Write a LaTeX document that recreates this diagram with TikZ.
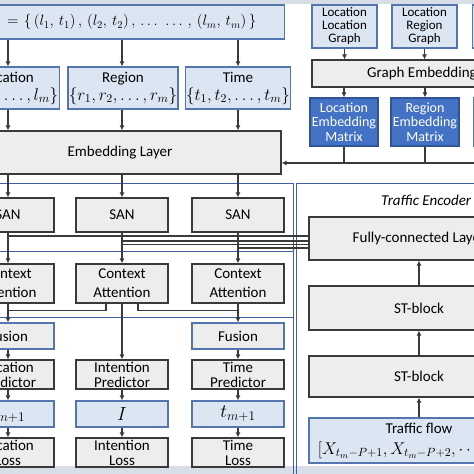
\documentclass[tikz,border=0pt]{standalone}
\usepackage{fix-cm}
\usepackage{fontspec}
\setmainfont{Carlito}
\usetikzlibrary{arrows.meta}
\definecolor{lbfill}{HTML}{DCE6F2}
\definecolor{lbdraw}{HTML}{5575AE}
\definecolor{gfill}{HTML}{EDEDED}
\definecolor{gdraw}{HTML}{3A3A3A}
\definecolor{dbfill}{HTML}{4472C4}
\definecolor{dbdraw}{HTML}{2F5597}
\definecolor{frameblue}{HTML}{4060A6}
\definecolor{bandgray}{HTML}{D8DEE8}
\newcommand{\setmath}[1]{{\fontsize{17}{18}\selectfont$#1$}}
\tikzset{
  lbox/.style={draw=lbdraw, fill=lbfill, line width=1.1pt},
  gbox/.style={draw=gdraw, fill=gfill, line width=1.1pt},
  dbox/.style={draw=dbdraw, fill=dbfill, line width=1.1pt, text=white},
  arr/.style={-{Latex[length=5pt,width=5pt]}, line width=1.1pt, draw=gdraw},
  ln/.style={line width=1.1pt, draw=gdraw},
  frame/.style={draw=frameblue, line width=0.9pt}
}
\begin{document}
\begin{tikzpicture}[x=1pt, y=-1pt,
    every node/.style={font=\fontsize{15}{17}\selectfont, align=center, inner sep=1pt}]
  \useasboundingbox (0,0) rectangle (474,474);
  \fill[bandgray] (0,0) rectangle (474,3.5);
  \fill[bandgray] (0,466) rectangle (474,474);

  % Frames
  \draw[frame] (-5,183) rectangle (293,251);
  \draw[frame] (-5,251) rectangle (293,317);
  \draw[frame] (-5,317) rectangle (293,480);
  \draw[frame] (296,183) rectangle (490,480);

  % Trajectory and input sets
  \node[lbox, anchor=east, text width=258pt, align=right, inner xsep=28pt, minimum height=34pt] (seq) at (285,22)
    {$=\{\,(l_1,\,t_1)\,,\,(l_2,\,t_2)\,,\,\ldots\;\ldots\,,\,(l_m,\,t_m)\,\}$};
  \node[lbox, minimum width=96pt, minimum height=42pt, font=\fontsize{15}{18}\selectfont] (loc) at (8,88) {Location\\\setmath{\{l_1, l_2, \ldots, l_m\}}};
  \node[lbox, minimum width=96pt, minimum height=42pt, font=\fontsize{15}{18}\selectfont] (reg) at (123,88) {Region\\\setmath{\{r_1, r_2, \ldots, r_m\}}};
  \node[lbox, minimum width=96pt, minimum height=42pt, font=\fontsize{15}{18}\selectfont] (tim) at (238,88) {Time\\\setmath{\{t_1, t_2, \ldots, t_m\}}};
  \node[gbox, minimum width=322pt, minimum height=43pt] (emb) at (120,152.5) {Embedding Layer};

  % Graph side
  \node[lbox, minimum width=65pt, minimum height=43pt, font=\fontsize{13}{13}\selectfont] (lgr) at (344.5,26.5) {Location\\Location\\Graph};
  \node[lbox, minimum width=65pt, minimum height=43pt, font=\fontsize{13}{13}\selectfont] (rgr) at (424.5,26.5) {Location\\Region\\Graph};
  \node[lbox, minimum width=65pt, minimum height=43pt] (xgr) at (505,26.5) {};
  \node[gbox, minimum width=220pt, minimum height=27pt] (gemb) at (422,73.5) {Graph Embedding};
  \node[dbox, minimum width=68pt, minimum height=48pt, font=\fontsize{14}{14.5}\selectfont] (lmat) at (344,122) {Location\\Embedding\\Matrix};
  \node[dbox, minimum width=68pt, minimum height=48pt, font=\fontsize{14}{14.5}\selectfont] (rmat) at (425,122) {Region\\Embedding\\Matrix};
  \node[lbox, minimum width=68pt, minimum height=48pt] (xmat) at (508,122) {};
  \coordinate (bus) at (480,163);

  % Branches
  \node[gbox, minimum width=92pt, minimum height=34pt] (san1) at (8,215) {SAN};
  \node[gbox, minimum width=92pt, minimum height=34pt] (san2) at (122,215) {SAN};
  \node[gbox, minimum width=92pt, minimum height=34pt] (san3) at (238,215) {SAN};
  \node[gbox, minimum width=92pt, minimum height=39pt, font=\fontsize{15}{19}\selectfont] (ca1) at (8,283.5) {Context\\Attention};
  \node[gbox, minimum width=92pt, minimum height=39pt, font=\fontsize{15}{19}\selectfont] (ca2) at (122,283.5) {Context\\Attention};
  \node[gbox, minimum width=92pt, minimum height=39pt, font=\fontsize{15}{19}\selectfont] (ca3) at (238,283.5) {Context\\Attention};
  \node[gbox, draw=lbdraw, minimum width=92pt, minimum height=26pt] (fus1) at (8,336) {Fusion};
  \node[gbox, draw=lbdraw, minimum width=92pt, minimum height=26pt] (fus3) at (238,336) {Fusion};
  \node[gbox, minimum width=92pt, minimum height=29pt, inner ysep=0pt, font=\fontsize{15}{15}\selectfont] (pre1) at (8,374.5) {Location\\Predictor};
  \node[gbox, minimum width=92pt, minimum height=29pt, inner ysep=0pt, font=\fontsize{15}{15}\selectfont] (pre2) at (122,374.5) {Intention\\Predictor};
  \node[gbox, minimum width=92pt, minimum height=29pt, inner ysep=0pt, font=\fontsize{15}{15}\selectfont] (pre3) at (238,374.5) {Time\\Predictor};
  \node[lbox, minimum width=92pt, minimum height=26pt, inner ysep=0pt, font=\fontsize{19}{20}\selectfont] (out1) at (8,414) {$l_{m+1}$};
  \node[lbox, minimum width=92pt, minimum height=26pt, inner ysep=0pt, font=\fontsize{19}{20}\selectfont] (out2) at (122,414) {$I$};
  \node[lbox, minimum width=92pt, minimum height=26pt, inner ysep=0pt, font=\fontsize{19}{20}\selectfont] (out3) at (238,414) {$t_{m+1}$};
  \node[gbox, minimum width=92pt, minimum height=29pt, inner ysep=0pt, font=\fontsize{15}{15}\selectfont] (los1) at (8,452.5) {Location\\Loss};
  \node[gbox, minimum width=92pt, minimum height=29pt, inner ysep=0pt, font=\fontsize{15}{15}\selectfont] (los2) at (122,452.5) {Intention\\Loss};
  \node[gbox, minimum width=92pt, minimum height=29pt, inner ysep=0pt, font=\fontsize{15}{15}\selectfont] (los3) at (238,452.5) {Time\\Loss};

  % Traffic encoder
  \node[anchor=west, font=\fontsize{15}{17}\selectfont\itshape] (tenc) at (380,200) {Traffic Encoder};
  \node[gbox, minimum width=220pt, minimum height=43pt] (fc) at (419,238.5) {Fully-connected Layer};
  \node[gbox, minimum width=220pt, minimum height=44pt] (st1) at (419,308) {ST-block};
  \node[gbox, minimum width=220pt, minimum height=41pt] (st2) at (419,376.5) {ST-block};
  \node[lbox, minimum width=220pt, minimum height=45pt, inner ysep=0pt, font=\fontsize{15}{21}\selectfont] (flow) at (419,440.5)
    {Traffic flow\\\setmath{[X_{t_m-P+1}, X_{t_m-P+2}, \cdots, X_{t_m}]}};

  % Connectors
  \draw[arr] (seq.south -| loc) -- (loc.north);
  \draw[arr] (seq.south -| san2) -- (reg.north -| san2);
  \draw[arr] (seq.south -| tim) -- (tim.north);
  \draw[arr] (loc.south) -- (loc.south |- emb.north);
  \draw[arr] (reg.south -| san2) -- (emb.north -| san2);
  \draw[arr] (tim.south) -- (tim.south |- emb.north);
  \draw[arr] (emb.south -| san1) -- (san1.north);
  \draw[arr] (emb.south -| san2) -- (san2.north);
  \draw[arr] (emb.south -| san3) -- (san3.north);
  \draw[arr] (lgr.south) -- (lgr.south |- gemb.north);
  \draw[arr] (rgr.south) -- (rgr.south |- gemb.north);
  \draw[arr] (gemb.south -| lmat) -- (lmat.north);
  \draw[arr] (gemb.south -| rmat) -- (rmat.north);
  \draw[ln] (lmat.south) -- (lmat.south |- bus);
  \draw[ln] (rmat.south) -- (rmat.south |- bus);
  \draw[arr] (bus) -- (bus -| emb.east);
  \draw[arr] (san1) -- (ca1);
  \draw[arr] (san2) -- (ca2);
  \draw[arr] (san3) -- (ca3);
  \draw[ln] ([yshift=2.5pt]fc.west) -- ([yshift=2.5pt]fc.west -| san1);
  \draw[ln] ([yshift=-2.5pt]fc.west) -- ([yshift=-2.5pt]fc.west -| san2);
  \draw[ln] ([yshift=-6pt]fc.west) -- ([yshift=-6pt]fc.west -| san2);
  \draw[ln] ([yshift=-9.5pt]fc.west) -- ([yshift=-9.5pt]fc.west -| san3);
  \draw[ln] ([xshift=-16pt]ca2.south) |- ([yshift=-7pt]ca1.south);
  \draw[ln] ([xshift=16pt]ca2.south) |- ([yshift=-7pt]ca3.south);
  \draw[arr] (ca1) -- (fus1);
  \draw[arr] (ca2) -- (pre2);
  \draw[arr] (ca3) -- (fus3);
  \draw[arr] (fus1) -- (pre1);
  \draw[arr] (fus3) -- (pre3);
  \draw[arr] (pre1) -- (out1);
  \draw[arr] (pre2) -- (out2);
  \draw[arr] (pre3) -- (out3);
  \draw[arr] (out1) -- (los1);
  \draw[arr] (out2) -- (los2);
  \draw[arr] (out3) -- (los3);
  \draw[arr] (flow) -- (st2);
  \draw[arr] (st2) -- (st1);
  \draw[arr] (st1) -- (fc);
\end{tikzpicture}
\end{document}
